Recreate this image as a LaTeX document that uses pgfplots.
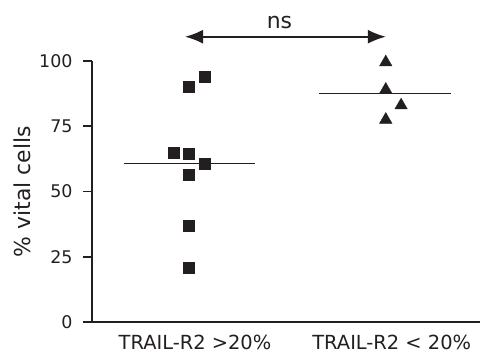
\documentclass[border=0pt]{standalone}
\usepackage{pgfplots}
\pgfplotsset{compat=1.18}
\usepackage{fontspec}
\setmainfont{DejaVu Sans}
\usetikzlibrary{arrows.meta}
\definecolor{ink}{HTML}{231F20}
\begin{document}
\begin{tikzpicture}
\begin{axis}[
  scale only axis, width=388bp, height=261bp,
  xmin=0.507, xmax=2.479, ymin=0, ymax=100,
  axis x line*=bottom, axis y line*=left,
  separate axis lines,
  axis line style={ink, line width=1.5bp},
  clip=false,
  ytick={0,25,50,75,100},
  tick align=outside, major tick length=9bp,
  tick style={ink, line width=1.5bp},
  xtick={1,2}, xticklabels={TRAIL-R2 >20\%, TRAIL-R2 < 20\%},
  x tick style={draw=none},
  /pgf/number format/assume math mode=true,
  yticklabel style={font=\fontsize{17.5}{20}\selectfont, text=ink, xshift=-7bp},
  xticklabel style={font=\fontsize{19.5}{22}\selectfont, text=ink, yshift=-1bp, xshift=6bp},
  ylabel={\% vital cells},
  ylabel style={font=\fontsize{22}{26}\selectfont, text=ink, at={(rel axis cs:0,0.5)}, anchor=center, xshift=0pt, yshift=69.5bp},
]
\coordinate (SW) at (rel axis cs:0,0);
\coordinate (NE) at (rel axis cs:1,1);
\addplot[ink, line width=1.6bp] coordinates {(0.668,60.8)(1.337,60.8)};
\addplot[ink, line width=1.6bp] coordinates {(1.663,87.6)(2.333,87.6)};
\addplot[only marks, mark=square*, mark size=5.5bp, ink, mark options={line width=0.4bp}]
  coordinates {(1,90)(1.08,94)(0.92,64.9)(1,64.5)(1.08,60.8)(1,56.4)(1,36.8)(1,20.7)};
\addplot[only marks, mark=triangle*, mark size=7.2bp, ink, mark options={line width=0.4bp}]
  coordinates {(2,99.5)(2,89)(2.078,83)(2,77.5)};
\addplot[ink, line width=1.6bp, {Latex[length=18bp,width=14bp]}-{Latex[length=18bp,width=14bp]}]
  coordinates {(0.98,109.3)(2.0,109.3)};
\node[anchor=base, font=\fontsize{22}{26}\selectfont, text=ink] at (axis cs:1.46,112.6) {ns};
\end{axis}
\pgfresetboundingbox
\path[use as bounding box] ([xshift=-92bp,yshift=-30bp]SW) rectangle ([yshift=61bp]NE);
\end{tikzpicture}
\end{document}
